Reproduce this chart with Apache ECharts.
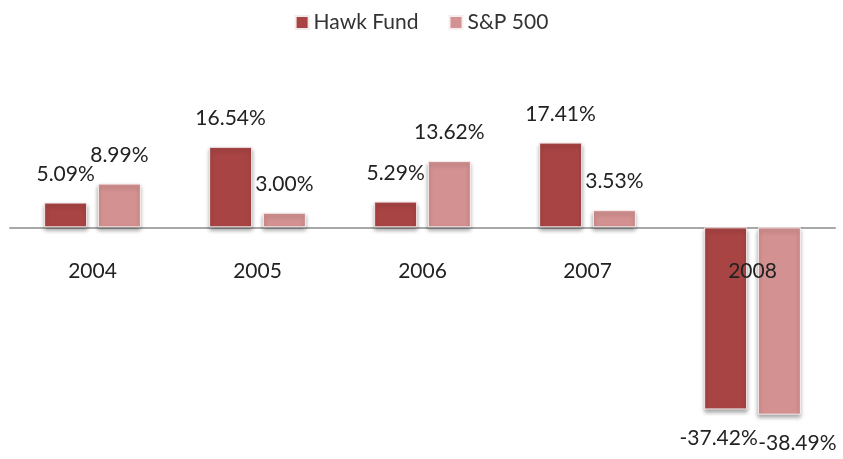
<!DOCTYPE html>
<html>
<head>
<meta charset="utf-8">
<script src="https://cdn.jsdelivr.net/npm/echarts@6/dist/echarts.min.js"></script>
<style>
  html, body { margin: 0; padding: 0; background: #fff; }
  #chart { width: 843px; height: 459px; }
</style>
</head>
<body>
<div id="chart"></div>
<script>
// 年份与收益率数据
var years = ['2004', '2005', '2006', '2007', '2008'];
var hawkFund = [5.09, 16.54, 5.29, 17.41, -37.42];
var sp500 = [8.99, 3.00, 13.62, 3.53, -38.49];

var FONT = 'Lato, "Open Sans", sans-serif';

// 负值标签放到柱子下方
function toItems(arr, negOffset) {
  return arr.map(function (v) {
    if (v < 0) {
      return { value: v, label: { position: 'bottom', offset: negOffset } };
    }
    return v;
  });
}

var barLabel = {
  show: true,
  position: 'top',
  distance: 18,
  formatter: function (p) { return p.value.toFixed(2) + '%'; },
  fontFamily: FONT,
  fontSize: 21,
  color: '#222'
};

var myChart = echarts.init(document.getElementById('chart'));
var option = {
  animation: false,
  legend: {
    top: 7,
    left: 'center',
    data: ['Hawk Fund', 'S&P 500'],
    itemWidth: 13,
    itemHeight: 13,
    itemGap: 30,
    icon: 'rect',
    textStyle: { fontFamily: FONT, fontSize: 21, color: '#333' }
  },
  grid: { left: 10, right: 8, top: 130, bottom: 37, outerBoundsMode: 'none', containLabel: false },
  xAxis: {
    type: 'category',
    data: years,
    axisLine: { onZero: true, lineStyle: { color: '#a8a8a8', width: 2 } },
    axisTick: { show: false },
    axisLabel: { show: false }
  },
  yAxis: {
    type: 'value',
    min: -40,
    max: 20,
    show: false,
    splitLine: { show: false }
  },
  series: [
    {
      name: 'Hawk Fund',
      type: 'bar',
      data: toItems(hawkFund, [-7, 0]),
      barWidth: 43,
      barGap: '25%',
      itemStyle: {
        color: '#a94444',
        borderColor: '#f4eaea',
        borderWidth: 1,
        shadowBlur: 4,
        shadowOffsetY: 3,
        shadowColor: 'rgba(0,0,0,0.35)'
      },
      label: barLabel
    },
    {
      name: 'S&P 500',
      type: 'bar',
      data: toItems(sp500, [18, 0]),
      barWidth: 43,
      itemStyle: {
        color: '#d49191',
        borderColor: '#f7eeee',
        borderWidth: 1,
        shadowBlur: 4,
        shadowOffsetY: 3,
        shadowColor: 'rgba(0,0,0,0.35)'
      },
      label: barLabel
    },
    {
      // 年份标签贴着零线下方
      name: 'year-label',
      type: 'scatter',
      data: years.map(function (y) { return [y, 0]; }),
      symbolSize: 0,
      z: 10,
      silent: true,
      itemStyle: { opacity: 1 },
      label: {
        show: true,
        position: 'bottom',
        distance: 33,
        formatter: function (p) { return p.value[0]; },
        fontFamily: FONT,
        fontSize: 21,
        color: '#222',
        opacity: 1
      }
    }
  ]
};
option && myChart.setOption(option);
</script>
</body>
</html>
